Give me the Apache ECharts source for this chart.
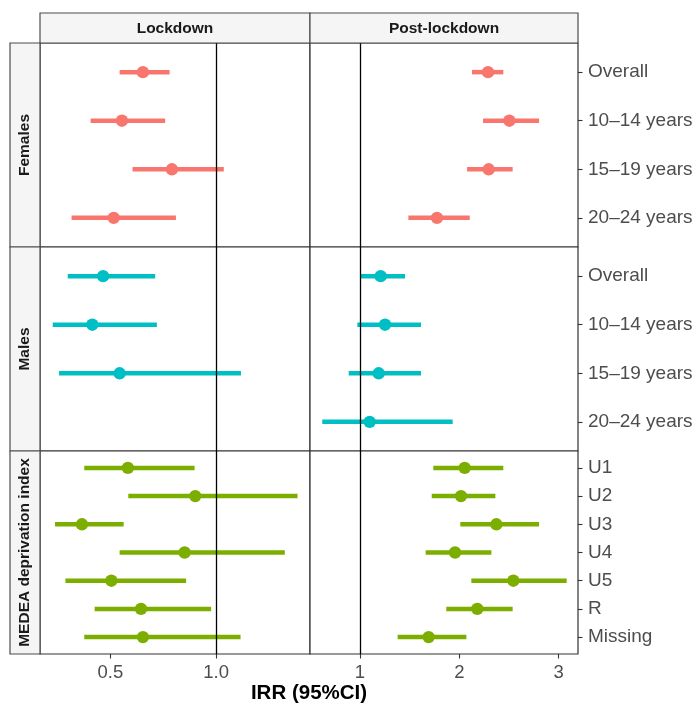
<!DOCTYPE html>
<html>
<head>
<meta charset="utf-8">
<script src="https://cdn.jsdelivr.net/npm/echarts@6/dist/echarts.min.js"></script>
<style>html,body{margin:0;padding:0;background:#fff}#c{width:700px;height:703px}</style>
</head>
<body>
<div id="c"></div>
<script>
// ---- Data ----
const columns = ['Lockdown', 'Post-lockdown'];
const rows = ['Females', 'Males', 'MEDEA deprivation index'];
const ageLabels = ['Overall', '10–14 years', '15–19 years', '20–24 years'];
const medeaLabels = ['U1', 'U2', 'U3', 'U4', 'U5', 'R', 'Missing'];
const xTicksLock = [0.5, 1.0];
const xTicksPost = [1, 2, 3];

// Females
const femLockEst = [0.654, 0.555, 0.791, 0.516];
const femLockLo  = [0.544, 0.407, 0.605, 0.317];
const femLockHi  = [0.780, 0.759, 1.036, 0.810];
const femPostEst = [2.289, 2.504, 2.296, 1.775];
const femPostLo  = [2.128, 2.239, 2.078, 1.487];
const femPostHi  = [2.443, 2.803, 2.537, 2.105];
// Males (20–24 years not estimated in lockdown)
const maleLockEst = [0.466, 0.415, 0.544, null];
const maleLockLo  = [0.299, 0.228, 0.258, null];
const maleLockHi  = [0.712, 0.720, 1.117, null];
const malePostEst = [1.208, 1.252, 1.188, 1.097];
const malePostLo  = [1.007, 0.973, 0.886, 0.620];
const malePostHi  = [1.453, 1.614, 1.614, 1.933];
// MEDEA deprivation index
const medLockEst = [0.583, 0.901, 0.366, 0.851, 0.505, 0.645, 0.654];
const medLockLo  = [0.377, 0.585, 0.239, 0.544, 0.288, 0.426, 0.377];
const medLockHi  = [0.898, 1.384, 0.563, 1.324, 0.858, 0.976, 1.115];
const medPostEst = [2.054, 2.017, 2.373, 1.957, 2.544, 2.181, 1.691];
const medPostLo  = [1.738, 1.722, 2.010, 1.661, 2.121, 1.869, 1.379];
const medPostHi  = [2.443, 2.363, 2.803, 2.323, 3.081, 2.537, 2.071];

const rowColors = ['#F8766D', '#00BFC4', '#7CAE00'];
const rowLabels = [ageLabels, ageLabels, medeaLabels];
const panels = [
  [[femLockEst, femLockLo, femLockHi], [femPostEst, femPostLo, femPostHi]],
  [[maleLockEst, maleLockLo, maleLockHi], [malePostEst, malePostLo, malePostHi]],
  [[medLockEst, medLockLo, medLockHi], [medPostEst, medPostLo, medPostHi]]
];

// ---- Layout ----
const colLeft = [40, 310];
const colWidth = [270, 268];
const rowTop = [43, 247, 451];
const rowHeight = [204, 204, 203];
const xRange = [[0.168, 1.443], [0.4965, 3.195]];
const FONT = '"Liberation Sans", Arial, Helvetica, sans-serif';

const grids = [], xAxes = [], yAxes = [], series = [];
for (let r = 0; r < 3; r++) {
  for (let c = 0; c < 2; c++) {
    const gi = r * 2 + c;
    const labels = rowLabels[r];
    const n = labels.length;
    grids.push({
      left: colLeft[c], top: rowTop[r], width: colWidth[c], height: rowHeight[r],
      show: true, borderColor: '#333333', borderWidth: 1.2, backgroundColor: '#ffffff', containLabel: false
    });
    const bottom = r === 2;
    const ticks = c === 0 ? xTicksLock : xTicksPost;
    xAxes.push({
      type: 'value', gridIndex: gi, min: xRange[c][0], max: xRange[c][1],
      axisLine: { show: false },
      splitLine: { show: false },
      axisTick: { show: bottom, customValues: ticks, length: 4.5, lineStyle: { color: '#333333', width: 1.1 } },
      axisLabel: {
        show: bottom, customValues: ticks, margin: 9,
        formatter: v => c === 0 ? v.toFixed(1) : String(Math.round(v)),
        color: '#4D4D4D', fontSize: 18.5, fontFamily: FONT
      }
    });
    const yVals = labels.map((_, i) => i + 1);
    yAxes.push({
      type: 'value', gridIndex: gi, inverse: true, min: 0.4, max: n + 0.6,
      position: 'right',
      axisLine: { show: false },
      splitLine: { show: false },
      axisTick: { show: c === 1, customValues: yVals, length: 4.5, lineStyle: { color: '#333333', width: 1.1 } },
      axisLabel: {
        show: c === 1, customValues: yVals, margin: 10,
        formatter: v => labels[Math.round(v) - 1] || '',
        color: '#4D4D4D', fontSize: 19, fontFamily: FONT
      }
    });
    const [est, lo, hi] = panels[r][c];
    const data = [];
    for (let i = 0; i < n; i++) {
      if (est[i] == null) continue;
      data.push([est[i], i + 1, lo[i], hi[i]]);
    }
    const color = rowColors[r];
    series.push({
      type: 'custom', xAxisIndex: gi, yAxisIndex: gi,
      encode: { x: 0, y: 1 },
      data: data,
      z: 3,
      renderItem: function (params, api) {
        const y = api.value(1);
        const p0 = api.coord([api.value(2), y]);
        const p1 = api.coord([api.value(3), y]);
        const pc = api.coord([api.value(0), y]);
        return {
          type: 'group',
          children: [
            { type: 'line', shape: { x1: p0[0], y1: p0[1], x2: p1[0], y2: p1[1] }, style: { stroke: color, lineWidth: 4.5 } },
            { type: 'circle', shape: { cx: pc[0], cy: pc[1], r: 6.2 }, style: { fill: color } }
          ]
        };
      },
      markLine: {
        silent: true, symbol: ['none', 'none'], animation: false,
        label: { show: false },
        lineStyle: { color: '#000000', width: 1.3, type: 'solid' },
        data: [{ xAxis: 1 }]
      }
    });
  }
}

// Strips
const graphics = [];
for (let c = 0; c < 2; c++) {
  graphics.push({
    type: 'rect', shape: { x: colLeft[c], y: 13, width: colWidth[c], height: 30 },
    style: { fill: '#F5F5F5', stroke: '#4D4D4D', lineWidth: 1.2 }, z: 10
  });
  graphics.push({
    type: 'text', x: colLeft[c] + colWidth[c] / 2, y: 28.5, z: 11,
    style: { text: columns[c], font: 'bold 15.5px ' + FONT, fill: '#1A1A1A', align: 'center', verticalAlign: 'middle' }
  });
}
for (let r = 0; r < 3; r++) {
  graphics.push({
    type: 'rect', shape: { x: 10, y: rowTop[r], width: 30, height: rowHeight[r] },
    style: { fill: '#F5F5F5', stroke: '#4D4D4D', lineWidth: 1.2 }, z: 10
  });
  graphics.push({
    type: 'text', x: 25, y: rowTop[r] + rowHeight[r] / 2, rotation: Math.PI / 2, z: 11,
    style: { text: rows[r], font: 'bold 15.5px ' + FONT, fill: '#1A1A1A', align: 'center', verticalAlign: 'middle' }
  });
}
graphics.push({
  type: 'text', x: 309, y: 693, z: 11,
  style: { text: 'IRR (95%CI)', font: 'bold 20.5px ' + FONT, fill: '#000000', align: 'center', verticalAlign: 'middle' }
});

const chart = echarts.init(document.getElementById('c'), null, { renderer: 'canvas' });
chart.setOption({
  animation: false,
  backgroundColor: '#ffffff',
  grid: grids,
  xAxis: xAxes,
  yAxis: yAxes,
  series: series,
  graphic: graphics
});
</script>
</body>
</html>
